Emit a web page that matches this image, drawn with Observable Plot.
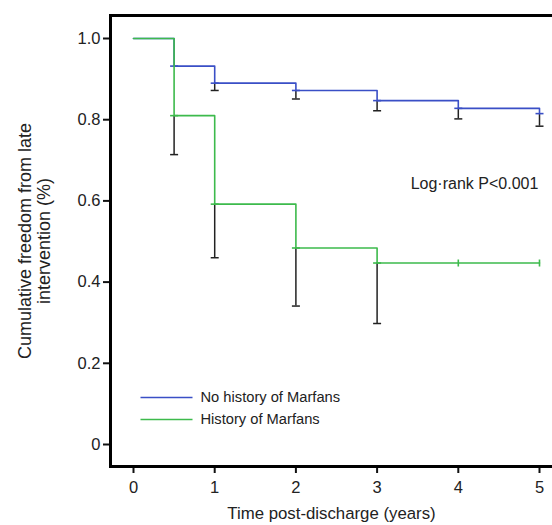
<!DOCTYPE html>
<html>
<head>
<meta charset="utf-8">
<script src="https://cdn.jsdelivr.net/npm/d3@7"></script>
<script src="https://cdn.jsdelivr.net/npm/@observablehq/plot@0.6"></script>
<style>
  html, body { margin: 0; padding: 0; background: #fff; }
  svg { display: block; font-family: "Liberation Sans", Arial, sans-serif; }
</style>
</head>
<body>
<div id="chart"></div>
<script>
// Kaplan–Meier step data (time in years, survival)
const noHistTime = [0, 0.5, 1, 2, 3, 4, 5];
const noHistSurv = [1.0, 0.932, 0.890, 0.872, 0.847, 0.828, 0.815];
const noHistLower = [null, null, 0.872, 0.851, 0.822, 0.802, 0.784];

const histTime = [0, 0.5, 1, 2, 3, 5];
const histSurv = [1.0, 0.810, 0.592, 0.484, 0.447, 0.447];
const histLower = [null, 0.714, 0.460, 0.341, 0.298, null];
const histCensor = [4, 5];

const xTicks = [0, 1, 2, 3, 4, 5];
const yTicks = [0, 0.2, 0.4, 0.6, 0.8, 1.0];
const seriesNames = ["No history of Marfans", "History of Marfans"];
const blue = "#3a4fc6";
const green = "#3dba4c";

const blueData = noHistTime.map((t, i) => ({t, s: noHistSurv[i], lo: noHistLower[i]}));
const greenData = histTime.map((t, i) => ({t, s: histSurv[i], lo: histLower[i]}));
const blueBars = blueData.filter(d => d.lo != null);
const greenBars = greenData.filter(d => d.lo != null);
const blueCaps = blueData.filter(d => d.t > 0);
const greenCaps = greenData.filter(d => d.t > 0 && d.lo != null);
const greenCensor = histCensor.map(t => ({t, s: histSurv[histTime.indexOf(3)]}));

const hLine = { draw(ctx, size) { const r = Math.sqrt(size / Math.PI); ctx.moveTo(-r, 0); ctx.lineTo(r, 0); } };
const vLine = { draw(ctx, size) { const r = Math.sqrt(size / Math.PI); ctx.moveTo(0, -r); ctx.lineTo(0, r); } };

const font = "Liberation Sans, Arial, sans-serif";
const chart = Plot.plot({
  width: 552,
  height: 525,
  marginLeft: 110,
  marginRight: 0,
  marginTop: 15,
  marginBottom: 59,
  style: { fontSize: "16px", fontFamily: font, color: "#222", background: "#fff" },
  x: { domain: [0, 5], range: [133, 539] },
  y: { domain: [0, 1], range: [444, 38] },
  marks: [
    Plot.axisX({ ticks: xTicks, tickSize: 7, tickPadding: 8, strokeWidth: 2, stroke: "#111", fill: "#222", label: null, fontSize: 16.5,
      tickFormat: d3.format("d") }),
    Plot.axisY({ ticks: yTicks, tickSize: 7, tickPadding: 3, strokeWidth: 2, stroke: "#111", fill: "#222", label: null, fontSize: 16.5,
      tickFormat: d => d === 0 ? "0" : d.toFixed(1) }),
    Plot.frame({ anchor: "top", stroke: "#000", strokeWidth: 3 }),
    Plot.frame({ anchor: "left", stroke: "#000", strokeWidth: 3 }),
    Plot.frame({ anchor: "bottom", stroke: "#000", strokeWidth: 3 }),
    // error bars
    Plot.ruleX(blueBars, { x: "t", y1: "s", y2: "lo", stroke: "#222", strokeWidth: 1.5 }),
    Plot.ruleX(greenBars, { x: "t", y1: "s", y2: "lo", stroke: "#222", strokeWidth: 1.5 }),
    Plot.dot(blueBars, { x: "t", y: "lo", symbol: hLine, r: 4, stroke: "#222", strokeWidth: 1.5 }),
    Plot.dot(greenBars, { x: "t", y: "lo", symbol: hLine, r: 4, stroke: "#222", strokeWidth: 1.5 }),
    // step curves
    Plot.line(blueData, { x: "t", y: "s", curve: "step-after", stroke: blue, strokeWidth: 1.6 }),
    Plot.dot(blueCaps, { x: "t", y: "s", symbol: hLine, r: 4, stroke: blue, strokeWidth: 1.6 }),
    Plot.line(greenData, { x: "t", y: "s", curve: "step-after", stroke: green, strokeWidth: 1.6 }),
    Plot.dot(greenCaps, { x: "t", y: "s", symbol: hLine, r: 4, stroke: green, strokeWidth: 1.6 }),
    Plot.dot(greenCensor, { x: "t", y: "s", symbol: vLine, r: 3.5, stroke: green, strokeWidth: 1.6 }),
    // annotation
    Plot.text(["Log·rank P<0.001"], { frameAnchor: "top-left", dx: 364, dy: 168, textAnchor: "middle", lineAnchor: "middle", fill: "#222", fontSize: 16 }),
    // legend
    Plot.dot([seriesNames[0]], { frameAnchor: "bottom-left", dx: 56, dy: -69, symbol: hLine, r: 26, stroke: blue, strokeWidth: 1.6 }),
    Plot.dot([seriesNames[1]], { frameAnchor: "bottom-left", dx: 56, dy: -47, symbol: hLine, r: 26, stroke: green, strokeWidth: 1.6 }),
    Plot.text([seriesNames[0]], { frameAnchor: "bottom-left", dx: 90, dy: -69, textAnchor: "start", lineAnchor: "middle", fill: "#222", fontSize: 14.7 }),
    Plot.text([seriesNames[1]], { frameAnchor: "bottom-left", dx: 90, dy: -47, textAnchor: "start", lineAnchor: "middle", fill: "#222", fontSize: 14.7 }),
    // axis titles
    Plot.text(["Time post-discharge (years)"], { frameAnchor: "bottom", dy: 47, textAnchor: "middle", lineAnchor: "middle", fill: "#222", fontSize: 16.8 }),
    Plot.text(["Cumulative freedom from late\nintervention (%)"], { frameAnchor: "left", dx: -76, rotate: -90, textAnchor: "middle", lineAnchor: "middle", fill: "#222", fontSize: 18, lineHeight: 1.05 })
  ]
});
document.getElementById("chart").appendChild(chart);
</script>
</body>
</html>
